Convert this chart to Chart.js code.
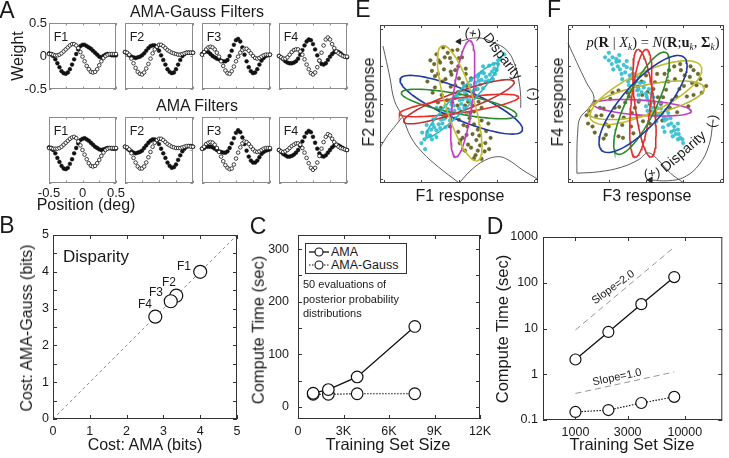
<!DOCTYPE html>
<html>
<head>
<meta charset="utf-8">
<script src="https://cdn.jsdelivr.net/npm/chart.js@4.4.0/dist/chart.umd.min.js"></script>
<style>
body{margin:0;width:729px;height:458px;position:relative;background:#fff;overflow:hidden;font-family:"Liberation Sans",Arial,sans-serif;color:#1a1a1a}
canvas{position:absolute}
.t{position:absolute;white-space:nowrap;transform:translate(-50%,-50%);line-height:1;z-index:3}
.eq{font-family:"Liberation Serif","DejaVu Serif",serif}
.eq sub{font-size:0.65em;line-height:0;vertical-align:-0.3em}
#leg{position:absolute;left:305px;top:243px;width:100px;height:29px;border:1px solid #333;background:#fff;z-index:2}
</style>
</head>
<body>
<script>
// ---- panel A : filter weights, sampled positions (deg)
var posDeg = [-0.5,-0.469,-0.438,-0.406,-0.375,-0.344,-0.313,-0.281,-0.25,-0.219,-0.188,-0.156,-0.125,-0.094,-0.063,-0.031,0,0.031,0.063,0.094,0.125,0.156,0.188,0.219,0.25,0.281,0.313,0.344,0.375,0.406,0.438,0.469,0.5];

// AMA-Gauss filters (top row)
var gaussF1Filled = [0.04,0.03,0.0,-0.05,-0.11,-0.17,-0.23,-0.26,-0.27,-0.25,-0.2,-0.13,-0.05,0.03,0.1,0.15,0.17,0.17,0.15,0.13,0.11,0.08,0.05,0.02,-0.01,-0.02,0.0,0.02,0.03,0.02,0.01,0.01,0.01];
var gaussF1Open   = [0.03,0.03,0.02,0.01,0.01,0.02,0.04,0.07,0.1,0.13,0.16,0.18,0.18,0.16,0.12,0.06,-0.01,-0.08,-0.15,-0.2,-0.24,-0.25,-0.24,-0.2,-0.14,-0.08,-0.03,0.0,0.02,0.03,0.03,0.03,0.03];
var gaussF2Filled = [0.06,0.04,0.01,-0.01,-0.02,-0.03,-0.02,-0.01,0.01,0.04,0.08,0.12,0.15,0.16,0.16,0.13,0.08,0.01,-0.06,-0.13,-0.2,-0.24,-0.26,-0.25,-0.2,-0.13,-0.06,0.0,0.03,0.05,0.05,0.05,0.05];
var gaussF2Open   = [0.06,0.05,0.02,-0.04,-0.11,-0.18,-0.24,-0.27,-0.28,-0.25,-0.19,-0.12,-0.04,0.04,0.1,0.14,0.17,0.17,0.15,0.12,0.09,0.07,0.05,0.04,0.03,0.02,0.02,0.03,0.04,0.05,0.05,0.05,0.05];
var gaussF3Filled = [0.03,0.06,0.07,0.06,0.03,0.0,-0.02,-0.04,-0.05,-0.07,-0.08,-0.08,-0.06,0.0,0.08,0.17,0.24,0.26,0.22,0.13,0.02,-0.08,-0.17,-0.23,-0.26,-0.25,-0.2,-0.13,-0.07,-0.03,0.0,0.01,0.02];
var gaussF3Open   = [0.02,0.06,0.1,0.13,0.14,0.13,0.1,0.05,-0.01,-0.08,-0.15,-0.22,-0.26,-0.27,-0.23,-0.16,-0.08,-0.01,0.05,0.09,0.11,0.11,0.08,0.04,0.0,-0.03,-0.04,-0.03,-0.01,0.01,0.02,0.02,0.02];
var gaussF4Filled = [0.0,-0.02,-0.05,-0.08,-0.1,-0.11,-0.11,-0.1,-0.08,-0.04,0.02,0.09,0.16,0.22,0.25,0.24,0.18,0.1,0.01,-0.07,-0.12,-0.13,-0.11,-0.06,-0.01,0.03,0.06,0.07,0.06,0.04,0.01,-0.01,-0.02];
var gaussF4Open   = [0.0,-0.02,-0.04,-0.04,-0.02,0.02,0.06,0.09,0.1,0.1,0.07,0.02,-0.05,-0.13,-0.2,-0.26,-0.28,-0.25,-0.17,-0.07,0.05,0.16,0.25,0.28,0.25,0.18,0.12,0.07,0.04,0.02,0.0,-0.01,-0.01];

// AMA filters (bottom row)
var amaF1Filled = [0.04,0.03,0.0,-0.05,-0.12,-0.18,-0.24,-0.28,-0.29,-0.27,-0.21,-0.14,-0.05,0.03,0.1,0.15,0.17,0.18,0.16,0.14,0.11,0.08,0.05,0.03,0.01,0.0,0.01,0.02,0.03,0.03,0.02,0.02,0.02];
var amaF1Open   = [0.03,0.03,0.02,0.02,0.02,0.03,0.05,0.08,0.11,0.14,0.17,0.19,0.2,0.18,0.13,0.07,0.0,-0.07,-0.14,-0.2,-0.24,-0.25,-0.24,-0.2,-0.15,-0.09,-0.04,0.0,0.02,0.03,0.03,0.03,0.03];
var amaF2Filled = [0.05,0.03,0.0,-0.02,-0.04,-0.05,-0.04,-0.03,-0.01,0.03,0.07,0.11,0.14,0.16,0.16,0.14,0.09,0.02,-0.05,-0.12,-0.19,-0.24,-0.27,-0.26,-0.22,-0.15,-0.08,-0.02,0.02,0.05,0.06,0.06,0.05];
var amaF2Open   = [0.05,0.04,0.01,-0.05,-0.12,-0.19,-0.25,-0.28,-0.28,-0.25,-0.19,-0.11,-0.03,0.05,0.11,0.15,0.17,0.17,0.15,0.12,0.09,0.07,0.05,0.04,0.03,0.03,0.03,0.04,0.05,0.06,0.06,0.05,0.05];
var amaF3Filled = [0.02,0.03,0.05,0.05,0.05,0.04,0.02,0.0,-0.02,-0.03,-0.04,-0.04,-0.02,0.03,0.1,0.18,0.26,0.3,0.27,0.19,0.09,-0.01,-0.1,-0.16,-0.19,-0.19,-0.16,-0.11,-0.06,-0.03,-0.01,0.0,0.01];
var amaF3Open   = [0.02,0.05,0.09,0.11,0.12,0.11,0.08,0.03,-0.03,-0.1,-0.17,-0.23,-0.27,-0.29,-0.28,-0.22,-0.13,-0.04,0.04,0.1,0.13,0.12,0.09,0.05,0.01,-0.02,-0.03,-0.02,0.0,0.02,0.03,0.03,0.03];
var amaF4Filled = [0.0,-0.03,-0.06,-0.08,-0.1,-0.1,-0.09,-0.07,-0.04,0.0,0.06,0.13,0.2,0.26,0.29,0.27,0.2,0.11,0.02,-0.05,-0.09,-0.1,-0.08,-0.04,0.0,0.04,0.07,0.08,0.07,0.05,0.03,0.01,0.0];
var amaF4Open   = [0.0,-0.02,-0.03,-0.02,0.0,0.03,0.06,0.08,0.1,0.1,0.08,0.03,-0.04,-0.12,-0.2,-0.27,-0.3,-0.27,-0.19,-0.09,0.02,0.12,0.2,0.24,0.22,0.17,0.12,0.08,0.05,0.03,0.02,0.01,0.0];

var filterNames = ['F1','F2','F3','F4'];
var weightTicks = [-0.5,0,0.5];
var posTicks = [-0.5,-0.25,0,0.25,0.5];

// ---- panel B : cost comparison
var costLabels = ['F1','F2','F3','F4'];
var costAMA    = [4.0, 3.35, 3.2, 2.78];
var costGauss  = [4.0, 3.35, 3.2, 2.78];
var costTicksX = [0,1,2,3,4,5];
var costTicksY = [0,0.5,1,1.5,2,2.5,3,3.5,4,4.5,5];

// ---- panel C : compute time, linear
var trainSizeC  = [1000, 2000, 3900, 7700];
var timeAMA_C   = [26, 33, 57, 153];
var timeGauss_C = [24, 24, 25, 25];
var sizeTicksC  = [0,3000,6000,9000,12000];
var timeTicksC  = [0,50,100,150,200,250,300];

// ---- panel D : compute time, log-log
var trainSizeD  = [1000, 2000, 4000, 8000];
var timeAMA_D   = [2.1, 8.4, 34, 133];
var timeGauss_D = [0.15, 0.165, 0.235, 0.32];
var slope2Line  = [[1000, 9.3], [8000, 600]];
var slope1Line  = [[1000, 0.38], [8000, 1.12]];
var sizeTicksD  = [1000, 3000, 10000];
var timeTicksD  = [0.1, 1, 10, 100, 1000];

// ---- panels E/F : filter responses, ellipses [cx, cy, a, b, angle deg]
var respTicks = [-1,-0.5,0,0.5,1];
var ellE = [[0.01,0.01,0.80,0.19,107],[0.05,0.07,0.78,0.13,83],[0.04,0.05,0.68,0.11,46],[0.0,-0.02,0.80,0.10,8],[0.0,0.03,0.78,0.13,20],[0.0,0.0,0.78,0.13,-11],[0.03,-0.01,0.88,0.20,-23]];
var ellF = [[-0.04,0.0,0.83,0.28,48],[-0.06,0.01,0.75,0.20,64],[-0.07,0.01,0.72,0.13,84],[-0.02,0.01,0.72,0.13,97],[0.0,0.15,0.82,0.27,25],[0.0,0.05,0.80,0.20,12],[-0.05,-0.05,0.66,0.10,-4]];
var ellColE = ['#c4bc30','#c03cc0','#28b8cc','#e8302c','#b83636','#2e8a2e','#1f3c9c'];
var ellColF = ['#1f3c9c','#2e8a2e','#e8302c','#d8302c','#c4bc30','#b8b434','#c03cc0'];

var oliveE = [[-0.21,0.75],[-0.30,0.66],[-0.09,0.71],[-0.19,0.62],[-0.33,0.53],[0.0,0.61],[-0.10,0.55],[-0.20,0.46],[-0.01,0.50],[-0.32,0.37],[0.09,0.47],[-0.10,0.39],[-0.22,0.30],[0.0,0.34],[-0.32,0.22],[0.16,0.34],[-0.11,0.23],[0.10,0.24],[-0.23,0.12],[-0.01,0.16],[-0.28,0.02],[0.19,0.14],[-0.09,0.02],[0.12,0.03],[-0.15,-0.07],[0.26,0.03],[0.03,-0.10],[-0.18,-0.18],[0.20,-0.10],[0.0,-0.21],[0.14,-0.19],[-0.12,-0.30],[0.30,-0.22],[0.11,-0.30],[-0.01,-0.37],[0.25,-0.34],[0.10,-0.41],[0.36,-0.36],[0.01,-0.52],[0.23,-0.48],[0.12,-0.54],[0.35,-0.52],[0.08,-0.62],[0.25,-0.62],[0.34,-0.63],[0.20,-0.72],[0.30,-0.73],[-0.12,0.61],[-0.36,0.44],[0.09,0.40],[0.02,-0.48],[-0.21,-0.15],[0.23,0.20],[0.39,-0.26],[-0.11,0.43],[-0.42,0.30],[0.42,-0.45],[-0.27,0.58],
  [-0.15,0.68],[-0.25,0.55],[-0.05,0.45],[-0.28,0.40],[0.05,0.28],[-0.18,0.33],[-0.05,0.08],[0.08,-0.02],[-0.08,-0.12],[0.18,-0.02],[0.06,-0.28],[0.20,-0.27],[0.16,-0.58],[0.05,-0.45],[0.28,-0.55],[0.18,-0.40],[-0.35,0.15],[0.30,-0.05],[-0.02,-0.02],[0.10,0.12],[-0.16,0.05],[0.27,-0.42],[0.04,0.62],[-0.24,-0.05],[0.15,-0.12],[-0.05,0.25],[0.22,-0.68],[0.40,-0.60],[-0.38,0.58],[-0.02,0.72]];
var cyanE = [[-0.46,-0.47],[-0.49,-0.38],[-0.36,-0.47],[-0.42,-0.37],[-0.30,-0.44],[-0.43,-0.28],[-0.30,-0.35],[-0.35,-0.27],[-0.25,-0.32],[-0.34,-0.20],[-0.18,-0.31],[-0.24,-0.21],[-0.20,-0.20],[-0.24,-0.13],[-0.11,-0.21],[-0.17,-0.11],[-0.05,-0.19],[-0.18,-0.02],[-0.06,-0.09],[-0.10,-0.01],[0.0,-0.06],[-0.09,0.06],[0.07,-0.05],[0.01,0.05],[0.05,0.06],[0.01,0.13],[0.14,0.05],[0.08,0.15],[0.20,0.08],[0.07,0.24],[0.19,0.17],[0.15,0.25],[0.25,0.20],[0.16,0.32],[0.32,0.21],[0.26,0.31],[0.30,0.32],[0.26,0.39],[0.39,0.31],[0.33,0.41],[0.45,0.33],[0.32,0.50],[0.44,0.43],[0.40,0.51],[0.50,0.45],[0.46,0.53],[0.52,0.53],[0.52,0.58],[0.60,0.66],[-0.45,-0.60],[0.10,-0.12],[-0.30,-0.05],[-0.38,-0.42],[0.36,0.36],[-0.14,-0.15],[0.22,0.28],
  [-0.40,-0.42],[-0.33,-0.31],[-0.27,-0.27],[-0.20,-0.14],[-0.14,-0.08],[-0.07,-0.02],[0.03,0.0],[0.10,0.08],[0.12,0.18],[0.21,0.22],[0.28,0.26],[0.35,0.30],[0.41,0.39],[0.47,0.47],[-0.22,-0.26],[-0.03,0.10],[0.04,0.18],[0.25,0.36],[-0.37,-0.34],[0.48,0.40],[-0.12,-0.22],[0.16,0.10],[-0.26,-0.08],[0.30,0.42],[-0.50,-0.52],[0.55,0.60]];
var oliveF = [[-0.78,-0.26],[-0.69,-0.38],[-0.77,-0.09],[-0.57,-0.46],[-0.67,-0.16],[-0.68,0.03],[-0.54,-0.27],[-0.57,-0.06],[-0.37,-0.43],[-0.45,-0.16],[-0.48,0.07],[-0.32,-0.28],[-0.36,-0.04],[-0.17,-0.39],[-0.37,0.18],[-0.19,-0.12],[-0.23,0.10],[-0.04,-0.23],[-0.10,0.03],[-0.11,0.23],[0.06,-0.10],[0.02,0.16],[0.22,-0.22],[0.16,0.09],[0.12,0.29],[0.32,-0.05],[0.27,0.19],[0.25,0.40],[0.41,0.10],[0.39,0.33],[0.57,-0.03],[0.51,0.24],[0.47,0.45],[0.64,0.12],[0.59,0.36],[0.68,0.25],[0.64,0.45],[0.73,0.33],[0.81,0.24],[-0.54,-0.41],[-0.28,0.02],[-0.06,0.30],[0.42,-0.11],[0.31,0.45],[-0.31,-0.45],[0.46,0.53],[0.23,0.09],[0.05,-0.26],
  [-0.72,-0.30],[-0.60,-0.15],[-0.50,-0.30],[-0.42,-0.05],[-0.30,-0.18],[-0.25,0.15],[-0.15,-0.05],[-0.05,0.12],[0.05,0.0],[0.12,-0.12],[0.10,0.20],[0.20,0.0],[0.30,0.30],[0.35,0.05],[0.45,0.20],[0.55,0.10],[0.52,0.38],[0.62,0.28],[0.70,0.40],[0.75,0.15],[-0.62,-0.05],[-0.20,-0.30],[0.0,0.38],[0.38,0.50],[-0.45,0.15],[0.60,0.50],[-0.80,-0.15],[0.15,0.40]];
var cyanF = [[-0.45,0.62],[-0.36,0.65],[-0.46,0.53],[-0.36,0.57],[-0.44,0.46],[-0.26,0.57],[-0.35,0.46],[-0.26,0.49],[-0.33,0.40],[-0.20,0.47],[-0.32,0.33],[-0.22,0.38],[-0.21,0.34],[-0.13,0.37],[-0.23,0.25],[-0.13,0.30],[-0.21,0.18],[-0.03,0.29],[-0.12,0.18],[-0.03,0.22],[-0.10,0.12],[0.04,0.20],[-0.09,0.05],[0.01,0.10],[0.02,0.06],[0.10,0.09],[0.0,-0.03],[0.11,0.02],[0.02,-0.09],[0.20,0.02],[0.11,-0.10],[0.20,-0.06],[0.13,-0.16],[0.27,-0.08],[0.14,-0.23],[0.24,-0.18],[0.25,-0.22],[0.33,-0.19],[0.23,-0.31],[0.34,-0.26],[0.25,-0.37],[0.43,-0.26],[0.34,-0.37],[0.43,-0.34],[0.36,-0.43],[0.44,-0.40],[0.43,-0.47],[0.49,-0.47],[-0.55,0.62],[-0.50,0.68],[0.50,-0.52],[-0.40,0.56],[0.38,-0.30],[-0.16,0.26],
  [-0.40,0.60],[-0.30,0.52],[-0.28,0.42],[-0.18,0.40],[-0.16,0.32],[-0.08,0.28],[-0.06,0.16],[0.0,0.14],[0.05,0.02],[0.08,-0.05],[0.15,-0.05],[0.17,-0.14],[0.22,-0.12],[0.28,-0.20],[0.30,-0.28],[0.38,-0.35],[0.40,-0.40],[-0.38,0.50],[-0.24,0.30],[0.30,-0.12],[-0.50,0.58],[0.46,-0.45],[-0.10,0.20],[0.07,0.14]];

var curvesE = [
  [[-1.01,0.77],[-0.92,0.36],[-0.86,0.05],[-0.75,-0.17],[-0.64,-0.44],[-0.49,-0.64],[-0.27,-0.84],[-0.01,-1.04]],
  [[-1.05,-0.58],[-0.95,-0.42],[-0.83,-0.27],[-0.76,-0.18]],
  [[0.01,-1.04],[0.16,-0.88],[0.34,-0.75],[0.52,-0.70],[0.65,-0.74],[0.85,-0.88],[1.05,-1.0]]
];
var arcE = [[0.0,0.83],[0.25,0.88],[0.45,0.82],[0.64,0.71],[0.75,0.5],[0.8,0.28],[0.82,0.1],[0.82,-0.05]];
var curvesF = [
  [[-1.05,0.81],[-0.93,0.55],[-0.8,0.28],[-0.7,0.09],[-0.76,-0.04],[-0.89,-0.19],[-0.92,-0.39],[-0.93,-0.65],[-0.93,-0.92]],
  [[-0.93,-0.92],[-0.63,-0.9],[-0.33,-0.84],[-0.1,-0.74],[0.03,-0.65],[0.16,-0.74],[0.33,-0.92],[0.51,-1.05]]
];
var arcF = [[0.06,-1.01],[0.3,-1.02],[0.52,-0.97],[0.72,-0.8],[0.85,-0.54],[0.9,-0.25]];

// ------------------------------------------------------------------
Chart.defaults.font.family = '"Liberation Sans", Arial, sans-serif';
Chart.defaults.color = '#1a1a1a';
Chart.defaults.animation = false;
Chart.defaults.plugins.legend.display = false;
Chart.defaults.plugins.tooltip.enabled = false;

// MATLAB-like box with inward ticks on all four sides
Chart.register({
  id: 'frame',
  beforeDatasetsDraw: function (c, a, o) {
    var ctx = c.ctx, ca = c.chartArea, sx = c.scales.x, sy = c.scales.y, L = o.len || 4;
    ctx.save();
    ctx.strokeStyle = o.color || '#333';
    ctx.lineWidth = 1;
    ctx.strokeRect(ca.left + 0.5, ca.top + 0.5, ca.right - ca.left - 1, ca.bottom - ca.top - 1);
    ctx.beginPath();
    sx.ticks.forEach(function (t) {
      var p = Math.round(sx.getPixelForValue(t.value)) + 0.5;
      ctx.moveTo(p, ca.bottom); ctx.lineTo(p, ca.bottom - L);
      ctx.moveTo(p, ca.top); ctx.lineTo(p, ca.top + L);
    });
    sy.ticks.forEach(function (t) {
      var p = Math.round(sy.getPixelForValue(t.value)) + 0.5;
      ctx.moveTo(ca.left, p); ctx.lineTo(ca.left + L, p);
      ctx.moveTo(ca.right, p); ctx.lineTo(ca.right - L, p);
    });
    ctx.stroke();
    ctx.restore();
  }
});

function axis(type, min, max, ticks, labelFn, pad, size) {
  return {
    type: type, min: min, max: max,
    grid: {display: false, drawTicks: false},
    border: {display: false},
    afterBuildTicks: function (s) { s.ticks = ticks.map(function (v) { return {value: v}; }); },
    ticks: {display: !!labelFn, callback: labelFn || function () { return ''; }, autoSkip: false,
            maxRotation: 0, minRotation: 0, padding: pad || 0, font: {size: size || 12}, color: '#1a1a1a'}
  };
}

// box = [x0,y0,x1,y1] page pixels of the plot area; m = [left,top,right,bottom] margins
function panel(box, m, cfg) {
  var c = document.createElement('canvas');
  c.width = box[2] - box[0] + m[0] + m[2];
  c.height = box[3] - box[1] + m[1] + m[3];
  c.style.left = (box[0] - m[0]) + 'px';
  c.style.top = (box[1] - m[1]) + 'px';
  document.body.appendChild(c);
  var o = cfg.options;
  o.responsive = false;
  o.devicePixelRatio = 1;
  o.layout = {padding: {left: 0, top: m[1], right: m[2], bottom: 0}};
  o.scales.x.afterFit = function (s) { s.height = m[3]; s.paddingLeft = 0; s.paddingRight = 0; };
  o.scales.y.afterFit = function (s) { s.width = m[0]; s.paddingTop = 0; s.paddingBottom = 0; };
  return new Chart(c, cfg);
}

function pts(xs, ys) { return xs.map(function (x, i) { return {x: x, y: ys[i]}; }); }
function pairs(a) { return a.map(function (p) { return {x: p[0], y: p[1]}; }); }
function ellipse(p) {
  var out = [], r = p[4] * Math.PI / 180;
  for (var k = 0; k <= 90; k++) {
    var t = k / 90 * 2 * Math.PI, ex = p[2] * Math.cos(t), ey = p[3] * Math.sin(t);
    out.push({x: p[0] + ex * Math.cos(r) - ey * Math.sin(r), y: p[1] + ex * Math.sin(r) + ey * Math.cos(r)});
  }
  return out;
}

function txt(s, x, y, size, rot, cls, align) {
  var d = document.createElement('div');
  d.className = 't' + (cls ? ' ' + cls : '');
  d.innerHTML = s;
  d.style.left = x + 'px';
  d.style.top = y + 'px';
  d.style.fontSize = size + 'px';
  var tr = align === 'l' ? 'translate(0,-50%)' : 'translate(-50%,-50%)';
  if (rot) tr += ' rotate(' + rot + 'deg)';
  d.style.transform = tr;
  document.body.appendChild(d);
}

// ---- Panel A
var topFilled = [gaussF1Filled, gaussF2Filled, gaussF3Filled, gaussF4Filled];
var topOpen = [gaussF1Open, gaussF2Open, gaussF3Open, gaussF4Open];
var botFilled = [amaF1Filled, amaF2Filled, amaF3Filled, amaF4Filled];
var botOpen = [amaF1Open, amaF2Open, amaF3Open, amaF4Open];
var aX = [[49,116],[125,193],[202,270],[279,347]];

function filterChart(box, filled, open, showY, showX) {
  var fmt = function (v) { return Math.abs(v * 2 - Math.round(v * 2)) < 1e-6 ? String(v) : ''; };
  panel(box, [showY ? 40 : (showX ? 24 : 6), 6, showX ? 14 : 6, showX ? 22 : 6], {
    type: 'scatter',
    data: {datasets: [
      {data: pts(posDeg, open), pointRadius: 1.8, pointBackgroundColor: '#fff', pointBorderColor: '#111', pointBorderWidth: 0.8, showLine: false, clip: false},
      {data: pts(posDeg, filled), pointRadius: 1.9, pointBackgroundColor: '#111', pointBorderColor: '#111', pointBorderWidth: 0.5, showLine: false, clip: false}
    ]},
    options: {
      plugins: {frame: {color: '#8c8c8c', len: 2.5}},
      scales: {
        x: axis('linear', -0.5, 0.5, posTicks, showX ? fmt : null, 3, 13),
        y: axis('linear', -0.5, 0.5, weightTicks, showY ? fmt : null, 2, 13)
      }
    }
  });
}
for (var i = 0; i < 4; i++) {
  filterChart([aX[i][0], 23, aX[i][1], 89], topFilled[i], topOpen[i], i === 0, false);
  filterChart([aX[i][0], 117, aX[i][1], 183], botFilled[i], botOpen[i], false, i === 0);
  txt(filterNames[i], aX[i][0] + 12, 37, 12.5);
  txt(filterNames[i], aX[i][0] + 12, 131, 12.5);
}
txt('A', 7, 10, 23);
txt('AMA-Gauss Filters', 197, 12, 16);
txt('AMA Filters', 197, 106, 16);
txt('Weight', 18, 56, 16, -90);
txt('Position (deg)', 86, 205, 16);

// ---- Panel B
panel([53, 235, 237, 419], [30, 8, 10, 20], {
  type: 'scatter',
  data: {datasets: [
    {data: pts(costAMA, costGauss), pointRadius: 6.5, pointBackgroundColor: '#fff', pointBorderColor: '#111', pointBorderWidth: 1.2, showLine: false},
    {data: [{x: 0, y: 0}, {x: 5, y: 5}], showLine: true, pointRadius: 0, borderColor: '#555', borderWidth: 0.7, borderDash: [3, 3]}
  ]},
  options: {
    plugins: {frame: {color: '#333', len: 4}},
    scales: {
      x: axis('linear', 0, 5, costTicksX, function (v) { return String(v); }, 5, 12.5),
      y: axis('linear', 0, 5, costTicksY, function (v) { return v % 1 === 0 ? String(v) : ''; }, 4, 12.5)
    }
  }
});
txt('B', 7, 225, 23);
txt('Disparity', 96, 256, 17);
var costLabelPos = [[184, 266], [169, 282], [156, 292], [145, 304]];
costLabels.forEach(function (l, k) { txt(l, costLabelPos[k][0], costLabelPos[k][1], 12); });
txt('Cost: AMA-Gauss (bits)', 27, 328, 16, -90);
txt('Cost: AMA (bits)', 145, 445, 16);

// ---- Panel C
var kfmt = function (v) { return v === 0 ? '0' : (v / 1000) + 'K'; };
panel([298, 235, 480, 419], [40, 8, 20, 20], {
  type: 'scatter',
  data: {datasets: [
    {data: pts(trainSizeC, timeAMA_C), showLine: true, borderColor: '#111', borderWidth: 1.3, pointRadius: 5.8, pointBackgroundColor: '#fff', pointBorderColor: '#111', pointBorderWidth: 1.2},
    {data: pts(trainSizeC, timeGauss_C), showLine: true, borderColor: '#111', borderWidth: 1.2, borderDash: [1.5, 1.5], pointRadius: 5.8, pointBackgroundColor: '#fff', pointBorderColor: '#111', pointBorderWidth: 1.2}
  ]},
  options: {
    plugins: {frame: {color: '#333', len: 4}},
    scales: {
      x: axis('linear', 0, 12000, sizeTicksC, kfmt, 5, 12.5),
      y: axis('linear', -23, 327, timeTicksC, function (v) { return v % 100 === 0 ? String(v) : ''; }, 9, 12.5)
    }
  }
});
txt('C', 258, 226, 23);
txt('Compute Time (sec)', 258, 330, 16.5, -90);
txt('Training Set Size', 388, 444, 16.5);
txt('50 evaluations of', 303, 284, 11, 0, '', 'l');
txt('posterior probability', 303, 299, 11, 0, '', 'l');
txt('distributions', 303, 313, 11, 0, '', 'l');
var leg = document.createElement('div');
leg.id = 'leg';
leg.innerHTML = '<svg width="100" height="29" style="position:absolute;left:0;top:0">' +
  '<line x1="3" y1="8" x2="23" y2="8" stroke="#111" stroke-width="1.3"/><circle cx="13" cy="8" r="4" fill="#fff" stroke="#111" stroke-width="1.1"/>' +
  '<line x1="3" y1="21" x2="23" y2="21" stroke="#111" stroke-width="1.2" stroke-dasharray="1.5,1.5"/><circle cx="13" cy="21" r="4" fill="#fff" stroke="#111" stroke-width="1.1"/></svg>' +
  '<span style="position:absolute;left:25px;top:1px;font-size:12.5px">AMA</span>' +
  '<span style="position:absolute;left:25px;top:14px;font-size:12.5px">AMA-Gauss</span>';
document.body.appendChild(leg);

// ---- Panel D
panel([543, 237, 727, 420], [40, 8, 2, 20], {
  type: 'scatter',
  data: {datasets: [
    {data: pts(trainSizeD, timeAMA_D), showLine: true, borderColor: '#111', borderWidth: 1.3, pointRadius: 5.5, pointBackgroundColor: '#fff', pointBorderColor: '#111', pointBorderWidth: 1.2},
    {data: pts(trainSizeD, timeGauss_D), showLine: true, borderColor: '#111', borderWidth: 1.2, borderDash: [1.5, 1.5], pointRadius: 5.5, pointBackgroundColor: '#fff', pointBorderColor: '#111', pointBorderWidth: 1.2},
    {data: pairs(slope2Line), showLine: true, borderColor: '#8a8a8a', borderWidth: 0.9, borderDash: [6, 4], pointRadius: 0},
    {data: pairs(slope1Line), showLine: true, borderColor: '#8a8a8a', borderWidth: 0.9, borderDash: [6, 4], pointRadius: 0}
  ]},
  options: {
    plugins: {frame: {color: '#333', len: 4}},
    scales: {
      x: axis('logarithmic', 505, 22000, sizeTicksD, function (v) { return String(v); }, 5, 12.5),
      y: axis('logarithmic', 0.1, 1000, timeTicksD, function (v) { return String(v); }, 5, 12.5)
    }
  }
});
txt('D', 495, 226, 23);
txt('Compute Time (sec)', 502, 329, 16.5, -90);
txt('Training Set Size', 632, 444, 16.5);
txt('Slope=2.0', 613, 287, 11, -36);
txt('Slope=1.0', 617, 377, 11, -12);

// ---- Panels E / F
function respChart(box, ells, cols, olive, cyan, curves, arc, arrowRot) {
  var ds = [];
  ells.forEach(function (p, k) {
    ds.push({data: ellipse(p), showLine: true, borderColor: cols[k], borderWidth: 1.6, pointRadius: 0});
  });
  curves.concat([arc]).forEach(function (cv) {
    ds.push({data: pairs(cv), showLine: true, borderColor: '#333', borderWidth: 0.8, tension: 0.4, pointRadius: 0, clip: false});
  });
  ds.push({data: pairs([arc[0]]), pointStyle: 'triangle', rotation: arrowRot, pointRadius: 3.2, pointBackgroundColor: '#222', pointBorderColor: '#222', showLine: false});
  ds.push({data: pairs(cyan), pointRadius: 1.8, pointBackgroundColor: '#3cc8d8', pointBorderColor: '#22a8ba', pointBorderWidth: 0.4, showLine: false});
  ds.push({data: pairs(olive), pointRadius: 1.8, pointBackgroundColor: '#6e6c2a', pointBorderColor: '#55531e', pointBorderWidth: 0.4, showLine: false});
  panel(box, [6, 6, 1, 6], {
    type: 'scatter',
    data: {datasets: ds},
    options: {
      plugins: {frame: {color: '#444', len: 3}},
      scales: {
        x: axis('linear', -1.05, 1.05, respTicks, null),
        y: axis('linear', -1.05, 1.05, respTicks, null)
      }
    }
  });
}
respChart([380, 25, 542, 183], ellE, ellColE, oliveE, cyanE, curvesE, arcE, 270);
respChart([568, 25, 728, 183], ellF, ellColF, oliveF, cyanF, curvesF, arcF, 270);

txt('E', 363, 9, 23);
txt('F', 554, 9, 23);
txt('F2 response', 369, 102, 16, -90);
txt('F1 response', 460, 196, 16);
txt('F4 response', 558, 102, 16, -90);
txt('F3 response', 647, 196, 16);
txt('(+)', 473, 33, 13, 8);
txt('Disparity', 503, 56, 14, 53);
txt('(-)', 534, 94, 13, 90);
txt('(+)', 652, 173, 13, -8);
txt('Disparity', 683, 151, 14, -41);
txt('(-)', 712, 121, 13, -80);
txt('<i>p</i>(<b>R</b> | <i>X</i><sub><i>k</i></sub>) = <i>N</i>(<b>R</b>;<b>u</b><sub><i>k</i></sub>, <b>&Sigma;</b><sub><i>k</i></sub>)', 653, 42, 14.5, 0, 'eq');
</script>
</body>
</html>
